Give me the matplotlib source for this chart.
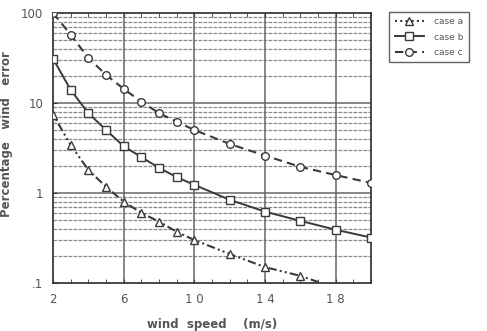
import numpy as np
from matplotlib import pyplot as plt

# wind speed values (m/s)
speed = [2, 3, 4, 5, 6, 7, 8, 9, 10, 12, 14, 16, 18, 20]

# percentage wind error for each case
case_a = [7.4, 3.4, 1.8, 1.17, 0.8, 0.6, 0.48, 0.37, 0.30, 0.21, 0.15, 0.12, 0.088, 0.07]
case_b = [31, 13.9, 7.7, 5.0, 3.3, 2.5, 1.9, 1.5, 1.23, 0.84, 0.62, 0.49, 0.39, 0.32]
case_c = [100, 57, 31.6, 20.5, 14.3, 10.3, 7.7, 6.2, 5.0, 3.5, 2.6, 1.95, 1.58, 1.29]

xticks = [2, 6, 10, 14, 18]
xtick_labels = ['2', '6', '1 0', '1 4', '1 8']
yticks = [0.1, 1, 10, 100]
ytick_labels = ['.1', '1', '10', '100']
legend_labels = ['case a', 'case b', 'case c']

ink = '#3a3a3a'
txt = '#555555'

fig = plt.figure(figsize=(4.87, 3.31), dpi=100)
ax = fig.add_axes([0.109, 0.145, 0.653, 0.816])

ax.set_yscale('log')
ax.set_xlim(2, 20)
ax.set_ylim(0.1, 100)

# horizontal grid at every log minor step
for dec in [0.1, 1, 10]:
    for m in range(2, 10):
        ax.axhline(dec * m, color='#8a8a8a', lw=0.9, ls=(0, (3, 1)), zorder=1)
for v in [1, 10]:
    ax.axhline(v, color='#666666', lw=1.1, zorder=1)
for v in [6, 10, 14, 18]:
    ax.axvline(v, color='#666666', lw=1.1, zorder=1)

mk = dict(markerfacecolor='white', markeredgecolor=ink, markeredgewidth=1.0, markersize=5.5)
la, = ax.plot(speed, case_a, color=ink, lw=1.5, ls=(0, (1, 1.5, 1, 1.5, 4, 1.5)), marker='^', zorder=3, **mk)
lb, = ax.plot(speed, case_b, color=ink, lw=1.4, ls='-', marker='s', zorder=3, **mk)
lc, = ax.plot(speed, case_c, color=ink, lw=1.5, ls=(0, (4, 2.5)), marker='o', zorder=3, **mk)

ax.set_xticks(xticks)
ax.set_xticklabels(xtick_labels)
ax.set_xticks(range(2, 21), minor=True)
ax.set_yticks(yticks)
ax.set_yticklabels(ytick_labels)
ax.yaxis.set_minor_formatter(plt.NullFormatter())
ax.tick_params(axis='both', which='both', direction='in', colors=ink, labelcolor=txt,
               labelsize=8.5, top=True, right=False, length=3, pad=7)
ax.tick_params(axis='y', which='minor', length=0)
for s in ax.spines.values():
    s.set_color(ink)
    s.set_linewidth(1.3)

ax.set_xlabel('wind  speed    (m/s)', color=txt, fontsize=8.5, fontweight='bold', labelpad=9)
ax.set_ylabel('Percentage   wind   error', color=txt, fontsize=8.5, fontweight='bold')
ax.yaxis.set_label_coords(-0.125, 0.55)

leg = fig.legend([la, lb, lc], legend_labels, loc='upper left',
                 bbox_to_anchor=(0.79, 0.978), frameon=True, fancybox=False,
                 fontsize=6.5, handlelength=3.2, borderpad=0.6, labelspacing=0.7,
                 handletextpad=1.2, labelcolor=txt)
leg.get_frame().set_edgecolor(ink)
leg.get_frame().set_linewidth(1.0)

plt.savefig('out.png', dpi=100)
